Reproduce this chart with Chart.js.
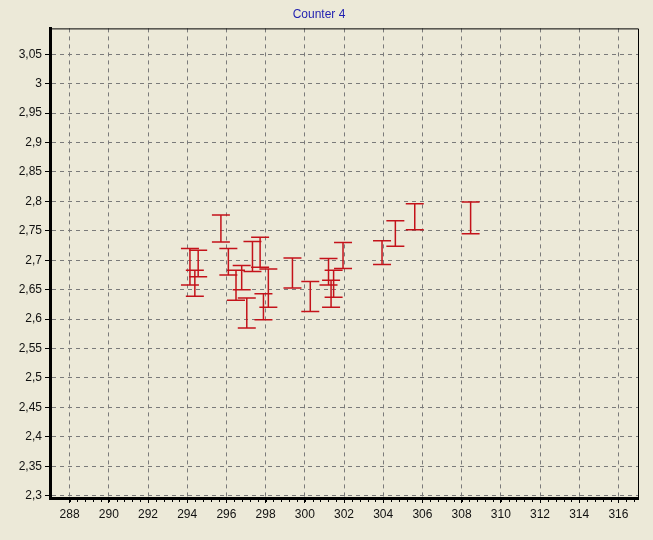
<!DOCTYPE html>
<html>
<head>
<meta charset="utf-8">
<script src="https://cdn.jsdelivr.net/npm/chart.js@4"></script>
<style>
  body { margin: 0; background: #ece9d8; }
  #wrap { width: 653px; height: 540px; }
</style>
</head>
<body>
<div id="wrap"><canvas id="myChart" width="653" height="540"></canvas></div>
<script>
// error bar centres and limits
const xValues = [294.14, 294.56, 294.39, 295.72, 296.10, 296.49, 296.78, 297.04, 297.33, 297.72, 297.89,
  298.14, 299.37, 300.28, 301.21, 301.47, 301.34, 301.95, 303.94, 304.62, 305.61, 308.46];
const yHigh = [2.720, 2.717, 2.683, 2.777, 2.720, 2.683, 2.691, 2.636, 2.732, 2.739, 2.643,
  2.685, 2.704, 2.664, 2.703, 2.683, 2.666, 2.730, 2.733, 2.767, 2.796, 2.799];
const yLow = [2.658, 2.672, 2.639, 2.731, 2.675, 2.632, 2.650, 2.585, 2.681, 2.688, 2.599,
  2.620, 2.653, 2.613, 2.658, 2.637, 2.620, 2.686, 2.693, 2.724, 2.752, 2.745];

const xTicks = [288, 290, 292, 294, 296, 298, 300, 302, 304, 306, 308, 310, 312, 314, 316];
const yTicks = [2.3, 2.35, 2.4, 2.45, 2.5, 2.55, 2.6, 2.65, 2.7, 2.75, 2.8, 2.85, 2.9, 2.95, 3, 3.05];

const barColor = "#c4121a";

// draws the error bars, frame and minor ticks using the chart scales
const errorBars = {
  id: "errorBars",
  afterDatasetsDraw(chart) {
    const { ctx, scales: { x, y }, chartArea } = chart;
    ctx.save();
    ctx.strokeStyle = barColor;
    ctx.lineWidth = 1.5;
    xValues.forEach((xv, i) => {
      const px = x.getPixelForValue(xv);
      const top = y.getPixelForValue(yHigh[i]);
      const bot = y.getPixelForValue(yLow[i]);
      ctx.beginPath();
      ctx.moveTo(px, top);
      ctx.lineTo(px, bot);
      ctx.moveTo(px - 9, top);
      ctx.lineTo(px + 9, top);
      ctx.moveTo(px - 9, bot);
      ctx.lineTo(px + 9, bot);
      ctx.stroke();
    });

    // thin top/right frame
    ctx.strokeStyle = "#000";
    ctx.lineWidth = 1;
    ctx.beginPath();
    ctx.moveTo(chartArea.left, chartArea.top + 0.5);
    ctx.lineTo(chartArea.right + 0.5, chartArea.top + 0.5);
    ctx.lineTo(chartArea.right + 0.5, chartArea.bottom);
    ctx.stroke();

    // minor ticks on x
    ctx.beginPath();
    for (let v = 288; v <= x.max; v += 0.4) {
      const px = Math.round(x.getPixelForValue(v)) + 0.5;
      ctx.moveTo(px, chartArea.bottom);
      ctx.lineTo(px, chartArea.bottom + 4);
    }
    ctx.stroke();
    ctx.restore();
  },
};

const ctx = document.getElementById("myChart");
new Chart(ctx, {
  type: "scatter",
  data: {
    datasets: [
      {
        label: "Counter 4",
        data: xValues.map((xv, i) => ({ x: xv, y: (yHigh[i] + yLow[i]) / 2 })),
        pointRadius: 0,
        showLine: false,
      },
    ],
  },
  options: {
    responsive: false,
    animation: false,
    layout: { padding: { left: 0, right: 15, top: 0, bottom: 0 } },
    plugins: {
      legend: { display: false },
      tooltip: { enabled: false },
      title: {
        display: true,
        text: "Counter 4",
        color: "#1f1fb0",
        font: { family: "Liberation Sans", size: 12, weight: "normal" },
        padding: { top: 7, bottom: 7 },
      },
    },
    scales: {
      x: {
        type: "linear",
        min: 287,
        max: 317,
        afterBuildTicks: (scale) => {
          scale.ticks = xTicks.map((v) => ({ value: v }));
        },
        afterFit: (scale) => {
          scale.height = 42;
        },
        grid: {
          color: "#7a7a7a",
          tickColor: "#000",
          tickLength: 5,
          tickBorderDash: [],
        },
        border: { display: true, color: "#000", width: 3, dash: [4, 4] },
        ticks: {
          color: "#111",
          padding: 4,
          font: { family: "Liberation Sans", size: 12 },
        },
      },
      y: {
        min: 2.296,
        max: 3.094,
        afterBuildTicks: (scale) => {
          scale.ticks = yTicks.map((v) => ({ value: v }));
        },
        afterFit: (scale) => {
          scale.width = 50;
        },
        grid: {
          color: "#7a7a7a",
          tickColor: "#000",
          tickLength: 5,
          tickBorderDash: [],
        },
        border: { display: true, color: "#000", width: 3, dash: [4, 4] },
        ticks: {
          color: "#111",
          padding: 3,
          font: { family: "Liberation Sans", size: 12 },
          callback: (v) => String(v).replace(".", ","),
        },
      },
    },
  },
  plugins: [errorBars],
});
</script>
</body>
</html>
